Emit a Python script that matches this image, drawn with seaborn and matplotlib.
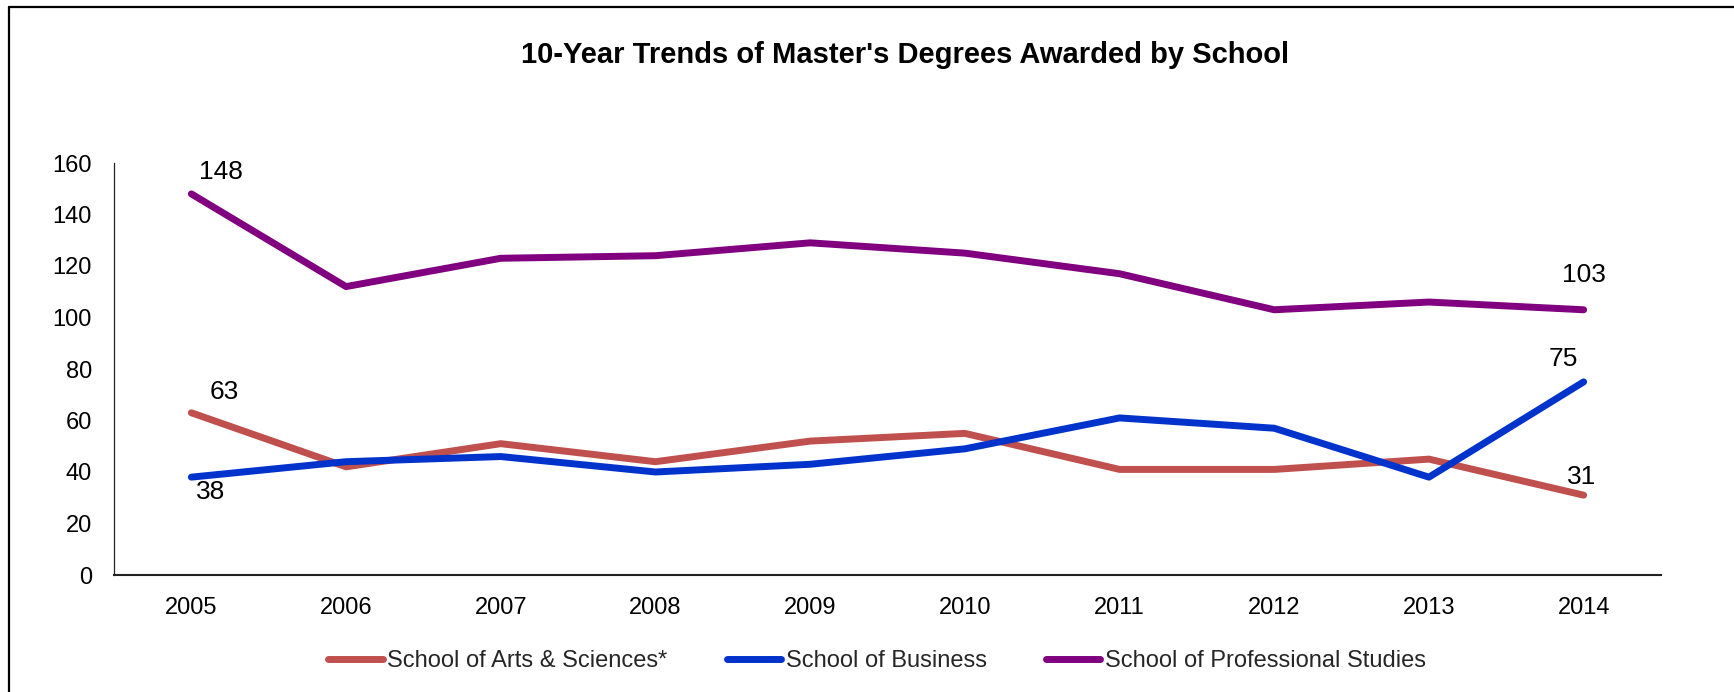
import matplotlib
matplotlib.use("Agg")
import matplotlib.pyplot as plt
from matplotlib.lines import Line2D
import seaborn as sns
import pandas as pd

# Master's degrees awarded per year, by school
years = [2005, 2006, 2007, 2008, 2009, 2010, 2011, 2012, 2013, 2014]
arts_sciences = [63, 42, 51, 44, 52, 55, 41, 41, 45, 31]
business = [38, 44, 46, 40, 43, 49, 61, 57, 38, 75]
professional = [148, 112, 123, 124, 129, 125, 117, 103, 106, 103]

schools = ["School of Arts & Sciences*", "School of Business",
           "School of Professional Studies"]
colors = ["#C0504D", "#0033CC", "#800080"]

df = pd.DataFrame({
    "year": years * 3,
    "degrees": arts_sciences + business + professional,
    "school": [schools[0]] * 10 + [schools[1]] * 10 + [schools[2]] * 10,
})

sns.set_style("white")
plt.rcParams["font.family"] = ["Liberation Sans", "DejaVu Sans"]

W, H = 1734, 692
fig = plt.figure(figsize=(W / 100, H / 100), dpi=100)
ax = fig.add_axes([114 / W, 1 - 575 / H, (1661 - 114) / W, (575 - 163) / H])

sns.lineplot(data=df, x="year", y="degrees", hue="school", hue_order=schools,
             palette=colors, linewidth=5, ax=ax, legend=True,
             solid_capstyle="round")

ax.set_xlim(2004.5, 2014.5)
ax.set_ylim(0, 160)
ax.set_xticks(years)
ax.set_xticklabels([str(y) for y in years])
ax.set_yticks(range(0, 161, 20))
ax.tick_params(axis="x", length=0, pad=16, labelsize=17, colors="black")
ax.tick_params(axis="y", length=0, pad=16, labelsize=17, colors="black")
ax.set_xlabel("")
ax.set_ylabel("")

for side in ("top", "right"):
    ax.spines[side].set_visible(False)
ax.spines["left"].set_color("#222222")
ax.spines["left"].set_linewidth(0.9)
ax.spines["bottom"].set_color("#222222")
ax.spines["bottom"].set_linewidth(1.5)

# value labels at selected points (offsets in pixels)
labels = [
    (years[0], professional[0], 30, 22),
    (years[0], arts_sciences[0], 33, 21),
    (years[0], business[0], 19, -15),
    (years[-1], professional[-1], 0, 35),
    (years[-1], business[-1], -20, 23),
    (years[-1], arts_sciences[-1], -2, 18),
]
for x, y, dx, dy in labels:
    ax.annotate(str(y), xy=(x, y), xytext=(dx, dy), textcoords="offset pixels",
                ha="center", va="center", fontsize=19, color="black")

# legend below the axes
handles, lbls = ax.get_legend_handles_labels()
for h in handles:
    h.set_linewidth(5)
    h.set_solid_capstyle("round")
ax.legend(handles, lbls, loc="center", bbox_to_anchor=(877 / W, 1 - 661 / H),
          bbox_transform=fig.transFigure, ncol=3, frameon=False, fontsize=17,
          handlelength=2.3, handletextpad=0.2, columnspacing=2.5)

fig.text(905 / W, 1 - 55 / H, "10-Year Trends of Master's Degrees Awarded by School",
         ha="center", va="center", fontsize=21, fontweight="bold", color="black")

# outer frame (top and left edges)
fig.add_artist(Line2D([9 / W, 1.0], [1 - 7 / H, 1 - 7 / H], color="black",
                      linewidth=1.6, transform=fig.transFigure))
fig.add_artist(Line2D([9 / W, 9 / W], [0.0, 1 - 7 / H], color="black",
                      linewidth=1.6, transform=fig.transFigure))

fig.savefig("out.png", dpi=100, facecolor="white")
